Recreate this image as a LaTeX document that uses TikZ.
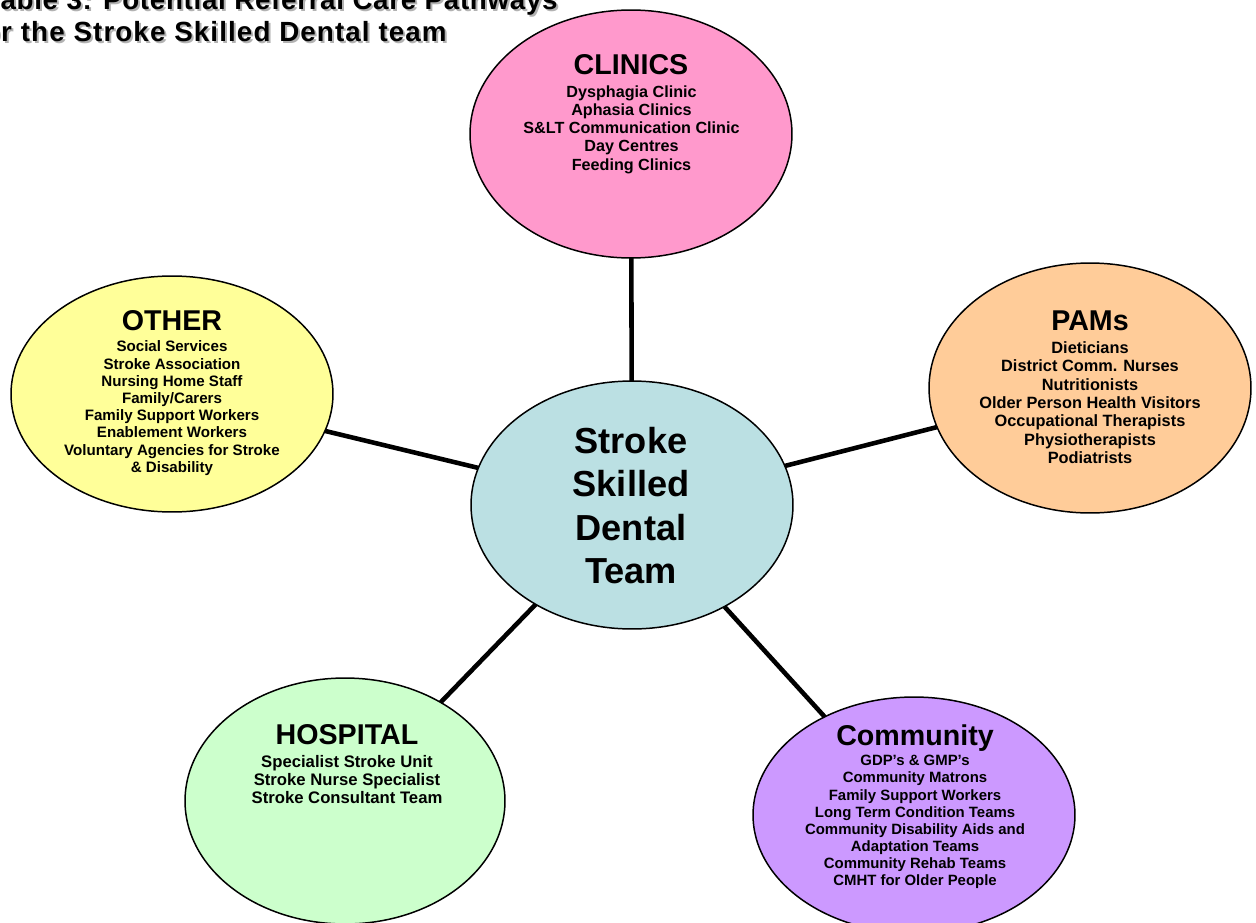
\documentclass[tikz,border=0pt]{standalone}
\usepackage{fontspec}
\setmainfont{Liberation Sans}
\usetikzlibrary{shapes.geometric}

\definecolor{clinicsPink}{HTML}{FF99CC}
\definecolor{pamsPeach}{HTML}{FFCC99}
\definecolor{otherYellow}{HTML}{FFFF99}
\definecolor{coreTeal}{HTML}{BBE0E3}
\definecolor{hospitalGreen}{HTML}{CCFFCC}
\definecolor{communityLilac}{HTML}{CC99FF}

\begin{document}
\begin{tikzpicture}[x=0.02cm, y=-0.02cm,
    pathway/.style={ellipse, draw=black, line width=0.85pt, inner sep=0pt, outer sep=0pt,
        minimum width=6.44cm, minimum height=4.96cm},
    heading/.style={font=\fontsize{16.3}{19}\selectfont\bfseries, inner sep=0pt, anchor=base},
    items/.style={font=\fontsize{9.2}{10.4}\selectfont\bfseries, align=center, inner sep=0pt, anchor=north},
    banner/.style={font=\fontsize{15.8}{19}\selectfont\bfseries\addfontfeature{LetterSpace=#1},
        inner sep=0pt, anchor=base east},
    banner/.default=2.5,
    link/.style={line width=2.6pt}]
    \useasboundingbox (0,0) rectangle (1256,922);
    \clip (0,0) rectangle (1256,922);

    % Table heading (with its drop shadow)
    \node[banner, text=black!30] (bannerShadowA) at (560,12) {Table 3: Potential Referral Care Pathways};
    \node[banner=4, text=black!30] (bannerShadowB) at (449,44) {for the Stroke Skilled Dental team};
    \node[banner] (bannerA) at (558,10) {Table 3: Potential Referral Care Pathways};
    \node[banner=4] (bannerB) at (447,42) {for the Stroke Skilled Dental team};

    % Ellipses
    \node[pathway, fill=coreTeal] (core) at (632,505) {};
    \node[pathway, fill=clinicsPink] (clinics) at (631,134) {};
    \node[pathway, fill=pamsPeach, minimum height=5cm] (pams) at (1090,388) {};
    \node[pathway, fill=otherYellow, minimum height=4.72cm] (other) at (172,394) {};
    \node[pathway, fill=hospitalGreen, minimum width=6.4cm, minimum height=4.92cm] (hospital) at (345,801) {};
    \node[pathway, fill=communityLilac, minimum height=4.72cm] (community) at (914,815) {};

    % Spokes from the team to each pathway
    \foreach \group in {clinics, pams, other, hospital, community}
        \draw[link] (core) -- (\group);

    % Centre
    \node[items, font=\fontsize{20.6}{24.8}\selectfont\bfseries] (coreText) at (631,426.5)
        {Stroke\\Skilled\\Dental\\Team};

    % Clinics
    \node[heading] (clinicsHead) at (631,75) {CLINICS};
    \node[items] (clinicsList) at (631.5,85)
        {Dysphagia Clinic\\Aphasia Clinics\\S\&LT Communication Clinic\\Day Centres\\Feeding Clinics};

    % PAMs
    \node[heading] (pamsHead) at (1090,330) {PAMs};
    \node[items, font=\fontsize{9.3}{10.5}\selectfont\bfseries] (pamsList) at (1090,341)
        {Dieticians\\District Comm. Nurses\\Nutritionists\\Older Person Health Visitors\\
         Occupational Therapists\\Physiotherapists\\Podiatrists};

    % Other
    \node[heading] (otherHead) at (172,330) {OTHER};
    \node[items, font=\fontsize{8.6}{9.8}\selectfont\bfseries] (otherList) at (172,340.5)
        {Social Services\\Stroke Association\\Nursing Home Staff\\Family/Carers\\Family Support Workers\\
         Enablement Workers\\Voluntary Agencies for Stroke\\\& Disability};

    % Hospital
    \node[heading] (hospitalHead) at (347,744) {HOSPITAL};
    \node[items, font=\fontsize{9.5}{10.2}\selectfont\bfseries] (hospitalList) at (347,755)
        {Specialist Stroke Unit\\Stroke Nurse Specialist\\Stroke Consultant Team};

    % Community
    \node[heading] (communityHead) at (915,745) {Community};
    \node[items, font=\fontsize{8.5}{9.75}\selectfont\bfseries] (communityList) at (915,755)
        {GDP’s \& GMP’s\\Community Matrons\\Family Support Workers\\Long Term Condition Teams\\
         Community Disability Aids and\\Adaptation Teams\\Community Rehab Teams\\CMHT for Older People};
\end{tikzpicture}
\end{document}
